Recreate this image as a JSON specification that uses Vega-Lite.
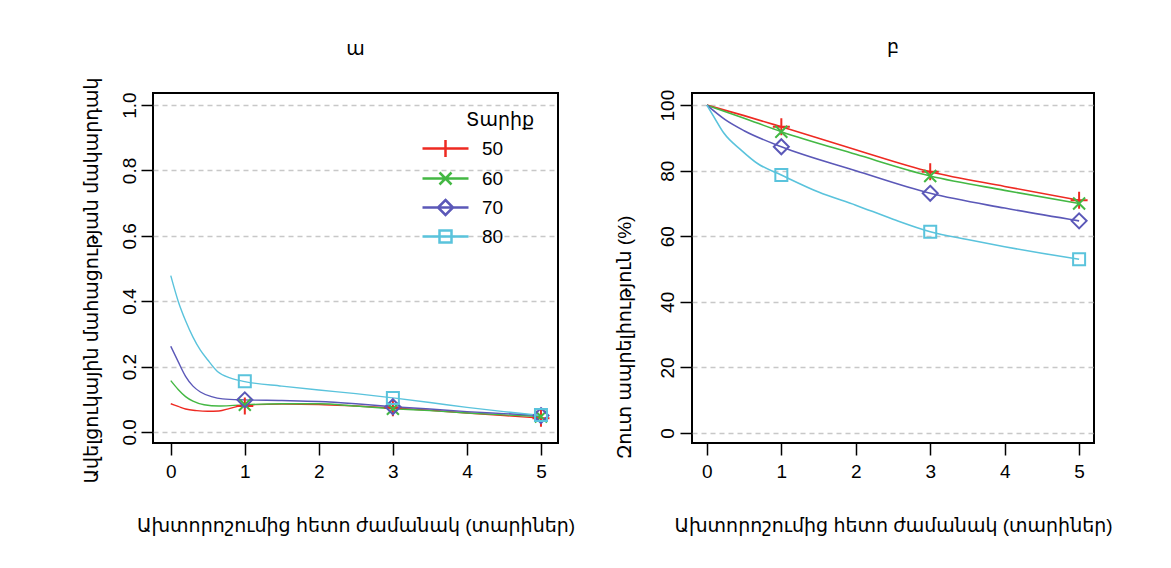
{
  "$schema": "https://vega.github.io/schema/vega-lite/v6.json",
  "background": "white",
  "padding": {"left": 80, "top": 37, "right": 10, "bottom": 10},
  "datasets": {
    "curves": [
      {"p": "a", "age": 50, "t": 0, "v": 0.086}, {"p": "a", "age": 50, "t": 0.1, "v": 0.078}, {"p": "a", "age": 50, "t": 0.2, "v": 0.07}, {"p": "a", "age": 50, "t": 0.35, "v": 0.065}, {"p": "a", "age": 50, "t": 0.5, "v": 0.063}, {"p": "a", "age": 50, "t": 0.65, "v": 0.064}, {"p": "a", "age": 50, "t": 0.8, "v": 0.072}, {"p": "a", "age": 50, "t": 1, "v": 0.082}, {"p": "a", "age": 50, "t": 1.5, "v": 0.085}, {"p": "a", "age": 50, "t": 2, "v": 0.084}, {"p": "a", "age": 50, "t": 2.5, "v": 0.079}, {"p": "a", "age": 50, "t": 3, "v": 0.073}, {"p": "a", "age": 50, "t": 3.5, "v": 0.066}, {"p": "a", "age": 50, "t": 4, "v": 0.058}, {"p": "a", "age": 50, "t": 4.5, "v": 0.05}, {"p": "a", "age": 50, "t": 5, "v": 0.042},
      {"p": "a", "age": 60, "t": 0, "v": 0.157}, {"p": "a", "age": 60, "t": 0.1, "v": 0.13}, {"p": "a", "age": 60, "t": 0.2, "v": 0.108}, {"p": "a", "age": 60, "t": 0.3, "v": 0.094}, {"p": "a", "age": 60, "t": 0.45, "v": 0.083}, {"p": "a", "age": 60, "t": 0.65, "v": 0.079}, {"p": "a", "age": 60, "t": 0.85, "v": 0.081}, {"p": "a", "age": 60, "t": 1, "v": 0.083}, {"p": "a", "age": 60, "t": 1.5, "v": 0.086}, {"p": "a", "age": 60, "t": 2, "v": 0.086}, {"p": "a", "age": 60, "t": 2.5, "v": 0.079}, {"p": "a", "age": 60, "t": 3, "v": 0.071}, {"p": "a", "age": 60, "t": 3.5, "v": 0.065}, {"p": "a", "age": 60, "t": 4, "v": 0.058}, {"p": "a", "age": 60, "t": 4.5, "v": 0.052}, {"p": "a", "age": 60, "t": 5, "v": 0.047},
      {"p": "a", "age": 70, "t": 0, "v": 0.262}, {"p": "a", "age": 70, "t": 0.1, "v": 0.215}, {"p": "a", "age": 70, "t": 0.2, "v": 0.17}, {"p": "a", "age": 70, "t": 0.3, "v": 0.14}, {"p": "a", "age": 70, "t": 0.4, "v": 0.122}, {"p": "a", "age": 70, "t": 0.55, "v": 0.108}, {"p": "a", "age": 70, "t": 0.7, "v": 0.101}, {"p": "a", "age": 70, "t": 1, "v": 0.098}, {"p": "a", "age": 70, "t": 1.5, "v": 0.096}, {"p": "a", "age": 70, "t": 2, "v": 0.093}, {"p": "a", "age": 70, "t": 2.5, "v": 0.086}, {"p": "a", "age": 70, "t": 3, "v": 0.077}, {"p": "a", "age": 70, "t": 3.5, "v": 0.07}, {"p": "a", "age": 70, "t": 4, "v": 0.062}, {"p": "a", "age": 70, "t": 4.5, "v": 0.056}, {"p": "a", "age": 70, "t": 5, "v": 0.05},
      {"p": "a", "age": 80, "t": 0, "v": 0.478}, {"p": "a", "age": 80, "t": 0.1, "v": 0.4}, {"p": "a", "age": 80, "t": 0.2, "v": 0.34}, {"p": "a", "age": 80, "t": 0.3, "v": 0.29}, {"p": "a", "age": 80, "t": 0.4, "v": 0.25}, {"p": "a", "age": 80, "t": 0.5, "v": 0.22}, {"p": "a", "age": 80, "t": 0.63, "v": 0.185}, {"p": "a", "age": 80, "t": 0.8, "v": 0.165}, {"p": "a", "age": 80, "t": 1, "v": 0.154}, {"p": "a", "age": 80, "t": 1.5, "v": 0.14}, {"p": "a", "age": 80, "t": 2, "v": 0.128}, {"p": "a", "age": 80, "t": 2.5, "v": 0.117}, {"p": "a", "age": 80, "t": 3, "v": 0.104}, {"p": "a", "age": 80, "t": 3.5, "v": 0.09}, {"p": "a", "age": 80, "t": 4, "v": 0.075}, {"p": "a", "age": 80, "t": 4.5, "v": 0.062}, {"p": "a", "age": 80, "t": 5, "v": 0.05},
      {"p": "b", "age": 50, "t": 0, "v": 100}, {"p": "b", "age": 50, "t": 0.5, "v": 96.8}, {"p": "b", "age": 50, "t": 1, "v": 93.4}, {"p": "b", "age": 50, "t": 2, "v": 86.4}, {"p": "b", "age": 50, "t": 3, "v": 79.7}, {"p": "b", "age": 50, "t": 4, "v": 75.2}, {"p": "b", "age": 50, "t": 5, "v": 71.0},
      {"p": "b", "age": 60, "t": 0, "v": 100}, {"p": "b", "age": 60, "t": 0.5, "v": 96}, {"p": "b", "age": 60, "t": 1, "v": 91.9}, {"p": "b", "age": 60, "t": 2, "v": 85}, {"p": "b", "age": 60, "t": 3, "v": 78.4}, {"p": "b", "age": 60, "t": 4, "v": 74}, {"p": "b", "age": 60, "t": 5, "v": 70.0},
      {"p": "b", "age": 70, "t": 0, "v": 100}, {"p": "b", "age": 70, "t": 0.25, "v": 95.5}, {"p": "b", "age": 70, "t": 0.5, "v": 92.2}, {"p": "b", "age": 70, "t": 1, "v": 87.3}, {"p": "b", "age": 70, "t": 2, "v": 80}, {"p": "b", "age": 70, "t": 3, "v": 73.1}, {"p": "b", "age": 70, "t": 4, "v": 68.6}, {"p": "b", "age": 70, "t": 5, "v": 64.7},
      {"p": "b", "age": 80, "t": 0, "v": 100}, {"p": "b", "age": 80, "t": 0.1, "v": 96.2}, {"p": "b", "age": 80, "t": 0.23, "v": 91.4}, {"p": "b", "age": 80, "t": 0.46, "v": 86.3}, {"p": "b", "age": 80, "t": 0.68, "v": 82.2}, {"p": "b", "age": 80, "t": 1, "v": 78.7}, {"p": "b", "age": 80, "t": 1.5, "v": 73.5}, {"p": "b", "age": 80, "t": 2, "v": 69.5}, {"p": "b", "age": 80, "t": 2.5, "v": 65.2}, {"p": "b", "age": 80, "t": 3, "v": 61.4}, {"p": "b", "age": 80, "t": 3.5, "v": 59}, {"p": "b", "age": 80, "t": 4, "v": 56.8}, {"p": "b", "age": 80, "t": 4.5, "v": 54.8}, {"p": "b", "age": 80, "t": 5, "v": 53.0}
    ],
    "markers": [
      {"p": "a", "age": 50, "t": 1, "v": 0.079}, {"p": "a", "age": 50, "t": 3, "v": 0.074}, {"p": "a", "age": 50, "t": 5, "v": 0.042},
      {"p": "a", "age": 60, "t": 1, "v": 0.083}, {"p": "a", "age": 60, "t": 3, "v": 0.071}, {"p": "a", "age": 60, "t": 5, "v": 0.047},
      {"p": "a", "age": 70, "t": 1, "v": 0.098}, {"p": "a", "age": 70, "t": 3, "v": 0.077}, {"p": "a", "age": 70, "t": 5, "v": 0.05},
      {"p": "a", "age": 80, "t": 1, "v": 0.155}, {"p": "a", "age": 80, "t": 3, "v": 0.104}, {"p": "a", "age": 80, "t": 5, "v": 0.052},
      {"p": "b", "age": 50, "t": 1, "v": 93.4}, {"p": "b", "age": 50, "t": 3, "v": 79.7}, {"p": "b", "age": 50, "t": 5, "v": 71.0},
      {"p": "b", "age": 60, "t": 1, "v": 91.9}, {"p": "b", "age": 60, "t": 3, "v": 78.4}, {"p": "b", "age": 60, "t": 5, "v": 70.0},
      {"p": "b", "age": 70, "t": 1, "v": 87.3}, {"p": "b", "age": 70, "t": 3, "v": 73.1}, {"p": "b", "age": 70, "t": 5, "v": 64.7},
      {"p": "b", "age": 80, "t": 1, "v": 78.7}, {"p": "b", "age": 80, "t": 3, "v": 61.4}, {"p": "b", "age": 80, "t": 5, "v": 53.0}
    ]
  },
  "spacing": 134,
  "bounds": "flush",
  "hconcat": [
    {
      "width": 405,
      "height": 350,
      "title": {"text": "ա", "fontSize": 19, "fontWeight": "normal", "offset": 18, "frame": "group"},
      "encoding": {
        "x": {"field": "t", "type": "quantitative", "scale": {"domain": [-0.24, 5.23], "nice": false, "zero": false},
          "axis": {"values": [0, 1, 2, 3, 4, 5], "format": "d", "grid": false, "labelPadding": 7, "title": "Ախտորոշումից հետո ժամանակ (տարիներ)", "titleY": 82, "titleBaseline": "middle"}},
        "y": {"field": "v", "type": "quantitative", "scale": {"domain": [-0.034, 1.037], "nice": false, "zero": false},
          "axis": {"values": [0, 0.2, 0.4, 0.6, 0.8, 1.0], "format": ".1f", "labelAngle": -90, "labelAlign": "center", "labelBaseline": "bottom", "labelPadding": 2,
            "title": "Ավելցուկային մահացության մակարդակ", "titleX": -62, "titleY": 187, "titleAlign": "center", "titleBaseline": "middle", "titleAngle": -90}},
        "color": {"field": "age", "type": "nominal", "scale": {"domain": [50, 60, 70, 80]}, "legend": {"title": "Տարիք"}}
      },
      "layer": [
        {"data": {"name": "curves"}, "transform": [{"filter": "datum.p == 'a'"}], "mark": {"type": "line", "interpolate": "monotone", "strokeWidth": 1.4}},
        {"data": {"name": "markers"}, "transform": [{"filter": "datum.p == 'a' && datum.age == 50"}], "mark": {"type": "point", "shape": "M-1.7,0H1.7M0,-1.7V1.7", "filled": false, "strokeWidth": 2, "size": 100, "opacity": 1}},
        {"data": {"name": "markers"}, "transform": [{"filter": "datum.p == 'a' && datum.age == 60"}], "mark": {"type": "point", "shape": "M-1.2,-1.2L1.2,1.2M-1.2,1.2L1.2,-1.2", "filled": false, "strokeWidth": 2, "size": 100, "opacity": 1}},
        {"data": {"name": "markers"}, "transform": [{"filter": "datum.p == 'a' && datum.age == 70"}], "mark": {"type": "point", "shape": "M0,-1.5L1.5,0L0,1.5L-1.5,0Z", "filled": false, "strokeWidth": 2, "size": 100, "opacity": 1}},
        {"data": {"name": "markers"}, "transform": [{"filter": "datum.p == 'a' && datum.age == 80"}], "mark": {"type": "point", "shape": "M-1.2,-1.2H1.2V1.2H-1.2Z", "filled": false, "strokeWidth": 2, "size": 100, "opacity": 1}},
        {
          "data": {"name": "markers"},
          "transform": [{"filter": "false"}],
          "mark": {"type": "point", "filled": false, "strokeWidth": 2.5, "size": 100, "opacity": 1},
          "encoding": {
            "shape": {"field": "age", "type": "nominal",
              "scale": {"domain": [50, 60, 70, 80], "range": ["M-4.6,0H4.6M0,-1.7V1.7", "M-4.6,0H4.6M-1.2,-1.2L1.2,1.2M-1.2,1.2L1.2,-1.2", "M-4.6,0H4.6M0,-1.5L1.5,0L0,1.5L-1.5,0Z", "M-4.6,0H4.6M-1.2,-1.2H1.2V1.2H-1.2Z"]},
              "legend": {"title": "Տարիք"}}
          }
        }
      ]
    },
    {
      "width": 402,
      "height": 350,
      "title": {"text": "բ", "fontSize": 19, "fontWeight": "normal", "offset": 32, "frame": "group"},
      "encoding": {
        "x": {"field": "t", "type": "quantitative", "scale": {"domain": [-0.2, 5.2], "nice": false, "zero": false},
          "axis": {"values": [0, 1, 2, 3, 4, 5], "format": "d", "grid": false, "labelPadding": 7, "title": "Ախտորոշումից հետո ժամանակ (տարիներ)", "titleY": 82, "titleBaseline": "middle"}},
        "y": {"field": "v", "type": "quantitative", "scale": {"domain": [-3.05, 103.7], "nice": false, "zero": false},
          "axis": {"values": [0, 20, 40, 60, 80, 100], "format": "d", "labelAngle": -90, "labelAlign": "center", "labelBaseline": "bottom", "labelPadding": 3,
            "title": "Զուտ ապրելիություն (%)", "titleX": -68, "titleY": 244, "titleAlign": "center", "titleBaseline": "middle", "titleAngle": -90}},
        "color": {"field": "age", "type": "nominal", "scale": {"domain": [50, 60, 70, 80]}, "legend": {"title": "Տարիք"}}
      },
      "layer": [
        {"data": {"name": "curves"}, "transform": [{"filter": "datum.p == 'b'"}], "mark": {"type": "line", "interpolate": "monotone", "strokeWidth": 1.6}},
        {"data": {"name": "markers"}, "transform": [{"filter": "datum.p == 'b' && datum.age == 50"}], "mark": {"type": "point", "shape": "M-1.7,0H1.7M0,-1.7V1.7", "filled": false, "strokeWidth": 2, "size": 100, "opacity": 1}},
        {"data": {"name": "markers"}, "transform": [{"filter": "datum.p == 'b' && datum.age == 60"}], "mark": {"type": "point", "shape": "M-1.2,-1.2L1.2,1.2M-1.2,1.2L1.2,-1.2", "filled": false, "strokeWidth": 2, "size": 100, "opacity": 1}},
        {"data": {"name": "markers"}, "transform": [{"filter": "datum.p == 'b' && datum.age == 70"}], "mark": {"type": "point", "shape": "M0,-1.5L1.5,0L0,1.5L-1.5,0Z", "filled": false, "strokeWidth": 2, "size": 100, "opacity": 1}},
        {"data": {"name": "markers"}, "transform": [{"filter": "datum.p == 'b' && datum.age == 80"}], "mark": {"type": "point", "shape": "M-1.2,-1.2H1.2V1.2H-1.2Z", "filled": false, "strokeWidth": 2, "size": 100, "opacity": 1}}
      ]
    }
  ],
  "resolve": {"scale": {"color": "shared", "shape": "shared"}},
  "config": {
    "font": "Liberation Sans, DejaVu Sans, sans-serif",
    "view": {"stroke": "black", "strokeWidth": 2},
    "axis": {"domain": false, "tickColor": "black", "tickWidth": 1.5, "tickSize": 12, "labelFontSize": 19, "labelColor": "black", "labelPadding": 4,
      "titleFontSize": 19, "titleFontWeight": "normal", "titleColor": "black", "gridColor": "#c8c8c8", "gridDash": [5, 4], "gridWidth": 1.5},
    "range": {"category": ["#ee2a22", "#44b844", "#5b58b8", "#5ac3dc"]},
    "legend": {
      "orient": "none", "legendX": 313, "legendY": 18, "symbolOffset": -30,
      "titleFontSize": 19, "titleFontWeight": "normal", "titleColor": "black", "titlePadding": 9,
      "labelFontSize": 19, "labelFontWeight": "normal", "labelColor": "black", "labelOffset": 27, "symbolSize": 100, "symbolStrokeWidth": 2.5, "rowPadding": 5,
      "symbolFillColor": "transparent"
    },
    "title": {"color": "black"}
  }
}
